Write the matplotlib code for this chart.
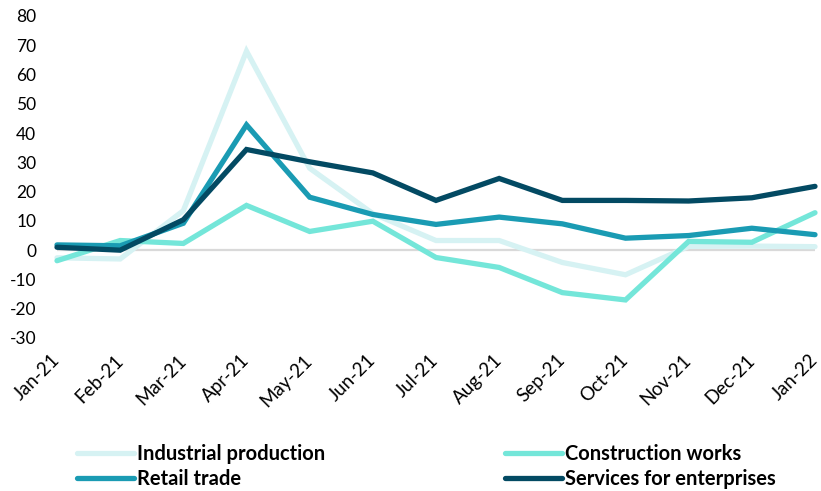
import matplotlib
matplotlib.use("Agg")
import matplotlib.pyplot as plt
from matplotlib.lines import Line2D

plt.rcParams['font.family'] = ['Lato', 'DejaVu Sans']
plt.rcParams['axes.unicode_minus'] = False

months = ["Jan-21", "Feb-21", "Mar-21", "Apr-21", "May-21", "Jun-21", "Jul-21",
          "Aug-21", "Sep-21", "Oct-21", "Nov-21", "Dec-21", "Jan-22"]

industrial = [-2.6, -3.0, 13.5, 68.0, 28.0, 12.5, 3.3, 3.3, -4.2, -8.4, 1.3, 1.4, 1.2]
construction = [-3.6, 3.3, 2.3, 15.3, 6.4, 9.9, -2.5, -5.9, -14.5, -17.0, 3.0, 2.7, 12.8]
retail = [1.8, 1.5, 9.2, 42.8, 18.1, 12.2, 8.8, 11.3, 9.0, 4.1, 5.0, 7.5, 5.3]
services = [1.0, 0.0, 10.4, 34.4, 30.2, 26.4, 17.0, 24.5, 17.0, 17.0, 16.8, 17.9, 21.8]

series = [
    ("Industrial production", industrial, "#d6f2f3"),
    ("Construction works", construction, "#74e6d9"),
    ("Retail trade", retail, "#1a9bb3"),
    ("Services for enterprises", services, "#034a63"),
]

W, H = 821, 491
fig = plt.figure(figsize=(W / 100, H / 100), dpi=100)
left, right = 57 / W, 815 / W
top, bottom = 1 - 16 / H, 1 - 338 / H
ax = fig.add_axes([left, bottom, right - left, top - bottom])

x = list(range(len(months)))
ax.axhline(0, color="#d9d9d9", lw=1.6, zorder=1)

for name, vals, col in series:
    ax.plot(x, vals, color=col, lw=3.8, solid_capstyle="round",
            solid_joinstyle="miter", clip_on=False, zorder=2, label=name)

ax.set_xlim(0, 12)
ax.set_ylim(-30, 80)
ax.set_yticks(range(-30, 81, 10))
ax.set_xticks(x)
ax.set_xticklabels(months, rotation=45, ha="right", va="center",
                   rotation_mode="anchor", fontsize=13.5)
ax.tick_params(axis="both", length=0, colors="black")
ax.tick_params(axis="y", pad=15, labelsize=12.5)
ax.tick_params(axis="x", pad=14)
for s in ax.spines.values():
    s.set_visible(False)

handles = {name: Line2D([], [], color=col, lw=3.8, solid_capstyle="round")
           for name, _, col in series}
order = ["Industrial production", "Retail trade",
         "Construction works", "Services for enterprises"]
fig.legend([handles[n] for n in order], order, ncol=2, frameon=False,
           loc="upper left", bbox_to_anchor=(67 / W, 1 - 434 / H),
           prop={"weight": "bold", "size": 14.5},
           handlelength=2.85, handletextpad=0.15, columnspacing=8.9,
           labelspacing=0.25, borderpad=0)

fig.savefig("out.png", dpi=100)
